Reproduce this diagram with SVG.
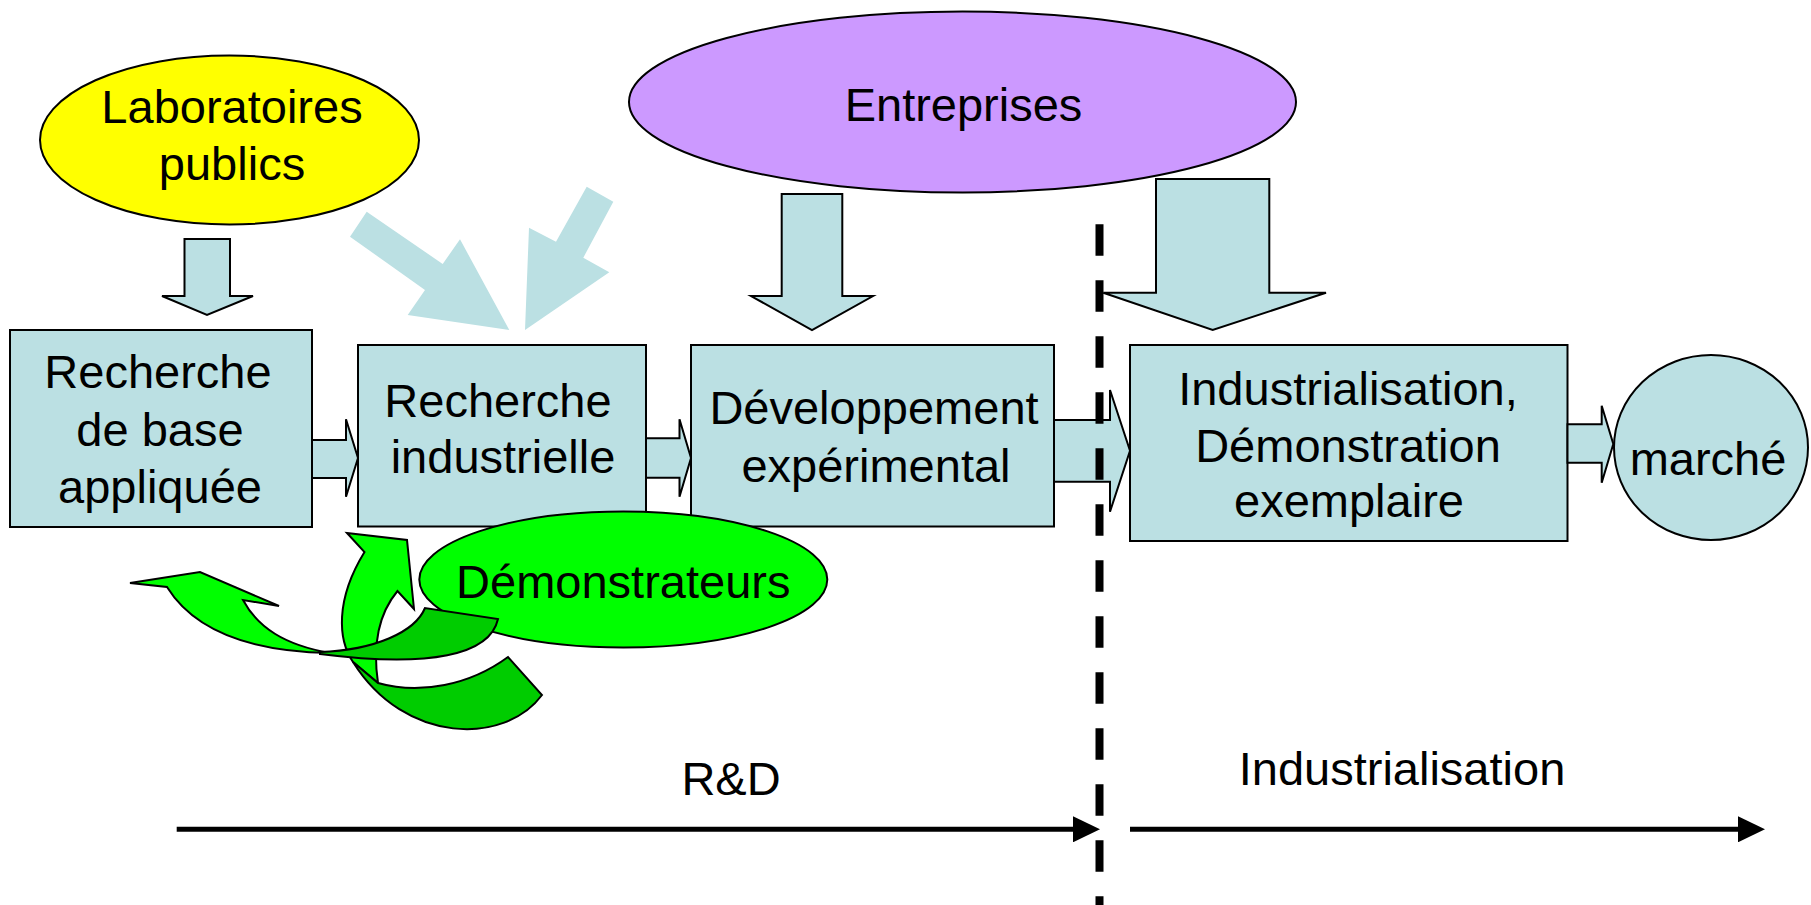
<svg xmlns="http://www.w3.org/2000/svg" width="1811" height="905" viewBox="0 0 1811 905">
<style>
.box{fill:#BBE0E3;stroke:#000;stroke-width:2}
.blk{fill:#BBE0E3;stroke:#000;stroke-width:2;stroke-linejoin:miter}
.diag{fill:#BBE0E3;stroke:none}
.t{font-family:"Liberation Sans",Arial,sans-serif;font-size:47px;fill:#000;text-anchor:middle}
.ell{stroke:#000;stroke-width:2}
.g1{fill:#00FF00;stroke:#000;stroke-width:2;stroke-linejoin:miter}
.g2{fill:#00CC00;stroke:#000;stroke-width:2;stroke-linejoin:miter}
.axis{stroke:#000;stroke-width:5;fill:none}
</style>
<defs>
<marker id="ah" markerUnits="userSpaceOnUse" markerWidth="27" markerHeight="26" refX="0" refY="13" orient="auto">
<path d="M0,0 L27,13 L0,26 Z" fill="#000"/>
</marker>
</defs>
<rect width="1811" height="905" fill="#fff"/>

<g id="laboratoires">
<ellipse class="ell" cx="229.5" cy="140" rx="189.5" ry="84.5" fill="#FFFF00"/>
<text class="t" x="232" y="123">Laboratoires</text>
<text class="t" x="232" y="180">publics</text>
</g>

<g id="entreprises">
<ellipse class="ell" cx="962.5" cy="102" rx="333.5" ry="90.5" fill="#CC99FF"/>
<text class="t" x="963.5" y="121">Entreprises</text>
</g>

<g id="recherche-base">
<rect class="box" x="10" y="330" width="302" height="197"/>
<text class="t" x="158" y="388">Recherche</text>
<text class="t" x="160" y="446">de base</text>
<text class="t" x="160" y="503">appliquée</text>
</g>

<g id="recherche-industrielle">
<rect class="box" x="358" y="345" width="288" height="181.5"/>
<text class="t" x="498" y="417">Recherche</text>
<text class="t" x="503" y="473">industrielle</text>
</g>

<g id="developpement">
<rect class="box" x="691" y="345" width="363" height="181.5"/>
<text class="t" x="874" y="424">Développement</text>
<text class="t" x="876" y="482">expérimental</text>
</g>

<g id="industrialisation-box">
<rect class="box" x="1130" y="345" width="437.5" height="196"/>
<text class="t" x="1348" y="405">Industrialisation,</text>
<text class="t" x="1348" y="462">Démonstration</text>
<text class="t" x="1349" y="517">exemplaire</text>
</g>

<g id="marche">
<ellipse class="box" cx="1711" cy="447.5" rx="97" ry="92.5"/>
<text class="t" x="1708" y="475">marché</text>
</g>

<g id="connectors">
<polygon class="blk" points="184.5,239 230,239 230,296 253,296 207,315 162,296 184.5,296"/>
<polygon class="blk" points="781.7,194 842.3,194 842.3,296 873,296 812,330 751,296 781.7,296"/>
<polygon class="blk" points="1156,179 1269.3,179 1269.3,292.7 1326,292.7 1212.7,330 1103.3,292.7 1156,292.7"/>
<polygon class="diag" points="366.7,211.7 442.7,264 460,239.3 509.3,330 407.7,315 425,290 350,236.7"/>
<polygon class="diag" points="586.7,186.7 613.3,201.7 583.3,257.7 609.3,272.3 525,330 529,227.7 556,241.7"/>
<polygon class="blk" points="312,440 346,440 346,419.3 358,458 346,496.7 346,478 312,478"/>
<polygon class="blk" points="646,438.3 679.5,438.3 679.5,419.3 691,458 679.5,496.7 679.5,477.7 646,477.7"/>
<polygon class="blk" points="1054,420 1110,420 1110,390 1130,450.7 1110,511.7 1110,481.7 1054,481.7"/>
<polygon class="blk" points="1567.5,424.3 1601.7,424.3 1601.7,405.7 1613.3,444 1601.7,482.7 1601.7,462.7 1567.5,462.7"/>
</g>

<g id="demonstrateurs">
<ellipse class="ell" cx="623.3" cy="579.5" rx="204" ry="68" fill="#00FF00"/>
<text class="t" x="623.3" y="598">Démonstrateurs</text>
</g>

<g id="feedback-arrows">
<path class="g1" d="M347,533 L407,540 L414,609 L397.5,591 C380,612 372,642 378,683 L353,662 C338,640 335,600 364.5,552 Z"/>
<path class="g2" d="M353,662 L378,683 C420,695 470,685 508,657 L542,695 C505,745 405,745 353,662 Z"/>
<path class="g1" d="M130,583 L200,572 L279,606 L243,600 C258,628 285,645 330,653 C270,652 200,640 167,587 Z"/>
<path class="g2" d="M320,652 C375,650 415,632 425,608 L498,619 C490,655 430,668 320,654 Z"/>
</g>

<g id="divider">
<line x1="1099.5" y1="224.3" x2="1099.5" y2="905" stroke="#000" stroke-width="8" stroke-dasharray="31.5 24.5"/>
</g>

<g id="phase-axes">
<line class="axis" x1="176.7" y1="829.3" x2="1073" y2="829.3" marker-end="url(#ah)"/>
<line class="axis" x1="1130" y1="829.3" x2="1738" y2="829.3" marker-end="url(#ah)"/>
<text class="t" x="731" y="795">R&amp;D</text>
<text class="t" x="1402" y="785">Industrialisation</text>
</g>
</svg>
